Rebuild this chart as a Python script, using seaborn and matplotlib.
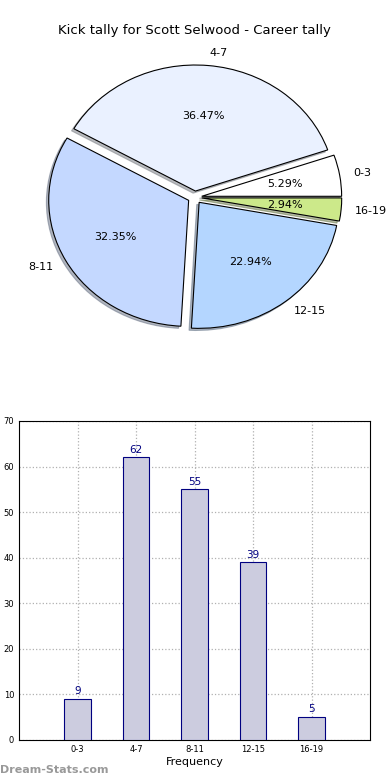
import matplotlib
matplotlib.use("Agg")
import matplotlib.pyplot as plt
import seaborn as sns
import pandas as pd

# DATA ----------------------
ranges = ["0-3", "4-7", "8-11", "12-15", "16-19"]
counts = [9, 62, 55, 39, 5]
pie_colors = ["#ffffff", "#eaf1ff", "#c4d8ff", "#b4d6ff", "#cce98a"]
yticks = [0, 10, 20, 30, 40, 50, 60, 70]

df = pd.DataFrame({"range": ranges, "count": counts})

sns.set_style("white")
plt.rcParams["font.family"] = ["DejaVu Sans"]
plt.rcParams["text.color"] = "black"
plt.rcParams["axes.labelcolor"] = "black"
plt.rcParams["xtick.color"] = "black"
plt.rcParams["ytick.color"] = "black"

fig = plt.figure(figsize=(3.9, 7.8), dpi=100)

# PIE ----------------------
ax1 = fig.add_axes([0.051, 0.545, 0.897, 0.404])
wedges, texts, autotexts = ax1.pie(
    counts,
    labels=ranges,
    colors=pie_colors,
    explode=[0.05] * len(counts),
    autopct="%.2f%%",
    shadow={"ox": -0.012, "oy": -0.012, "shade": 0.5},
    startangle=0,
    wedgeprops={"edgecolor": "black", "linewidth": 0.8},
    textprops={"fontsize": 8},
)
ax1.set_aspect("auto")
ax1.set_xlim(-1.25, 1.25)
ax1.set_ylim(-1.25, 1.25)
ax1.set_title("Kick tally for Scott Selwood - Career tally", fontsize=9.5, pad=4)

# BARS ----------------------
ax2 = fig.add_axes([0.049, 0.0513, 0.9, 0.409])
sns.barplot(
    data=df, x="range", y="count", ax=ax2,
    color="#ccccdf", saturation=1, width=0.45,
    edgecolor="navy", linewidth=0.8, zorder=3,
)
for i, c in enumerate(counts):
    ax2.text(i, c + 0.6, str(c), ha="center", va="bottom",
             color="navy", fontsize=7.5, zorder=4)
ax2.set_xlim(-1, 5)
ax2.set_ylim(0, 70)
ax2.set_yticks(yticks)
ax2.tick_params(labelsize=6, length=0)
ax2.set_xlabel("Frequency", fontsize=8, labelpad=2)
ax2.set_ylabel("")
ax2.grid(True, linestyle=":", color="#b0b0b0", linewidth=0.9, zorder=0)
ax2.set_axisbelow(True)
for s in ax2.spines.values():
    s.set_color("black")
    s.set_linewidth(0.8)

fig.text(0.0, 0.0065, "Dream-Stats.com", color="#999999", fontsize=8,
         fontweight="bold", ha="left", va="bottom")

fig.savefig("out.png", dpi=100)
